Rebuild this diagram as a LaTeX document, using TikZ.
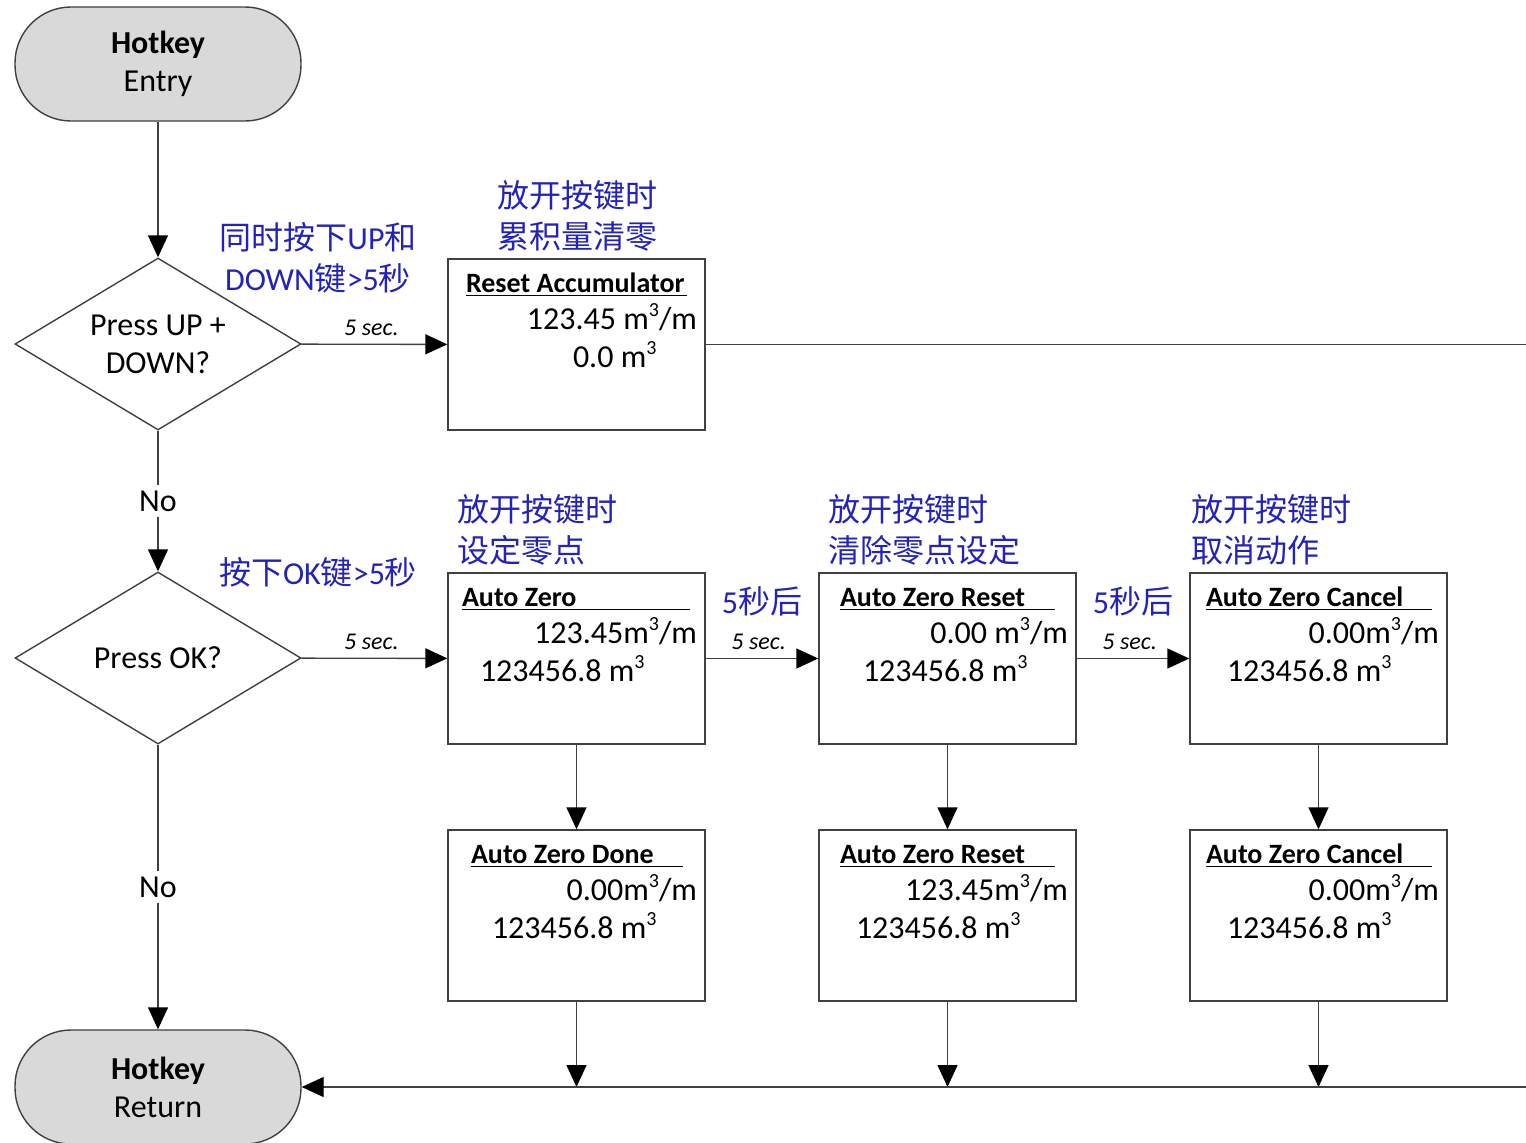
\documentclass[tikz,border=0pt]{standalone}
\usepackage{fontspec}
\setmainfont{Carlito}
\newfontfamily\cjk{Noto Sans CJK SC}
\usepackage{tikz}
\usetikzlibrary{arrows.meta,shapes.geometric,calc}
\definecolor{termgray}{RGB}{217,217,217}
\definecolor{hintblue}{RGB}{35,35,185}
\definecolor{linegray}{RGB}{64,64,64}
\newcommand{\zh}[1]{{\cjk #1}}
\newcommand{\cubx}{\raisebox{0.85ex}{\fontsize{10}{10}\selectfont 3}}
\newcommand{\cub}{m\cubx}
\newcommand{\cubm}{m\cubx/m}

\tikzset{
  term/.style={draw=linegray, fill=termgray, rectangle, rounded corners=28pt,
    minimum width=143pt, minimum height=57pt, align=center},
  ask/.style={draw=linegray, diamond, aspect=1.66, minimum width=143pt,
    minimum height=86pt, inner sep=0pt, align=center},
  statebox/.style={draw=linegray, minimum width=128.5pt, minimum height=85.5pt, inner sep=0pt},
  flow/.style={draw=linegray, -{Triangle[length=11pt,width=10pt,color=black]}},
  hint/.style={text=hintblue, font=\fontsize{16}{20.5}\selectfont, inner sep=0pt},
  secs/.style={font=\fontsize{12}{14}\selectfont\itshape, inner sep=0pt},
  ttl/.style={font=\fontsize{14}{17}\selectfont\bfseries, inner sep=0pt},
  val/.style={inner sep=0pt}
}

\begin{document}
\begin{tikzpicture}[x=0.5pt,y=-0.5pt,line width=0.7pt,font=\fontsize{16}{19}\selectfont]
    \useasboundingbox (0,0) rectangle (1526,1142);
    \coordinate (edgeR) at (1526,0);
    % left column
    \node[term] (entry) at (158,64) {\textbf{Hotkey}\\Entry};
    \node[ask] (askud) at (158,344) {Press UP +\\DOWN?};
    \node[ask] (askok) at (158,658) {Press OK?};
    \node[term] (ret) at (158,1087) {\textbf{Hotkey}\\Return};
    % state boxes
    \foreach \nm/\cx/\cy in {ra/576.5/344.5, az/576.5/658.5, azr/947.5/658.5, azc/1318.5/658.5,
        azd/576.5/915.5, azrd/947.5/915.5, azcd/1318.5/915.5}
        \node[statebox] (\nm) at (\cx,\cy) {};
    % box texts: name/title/underline/title offset/rate/total/total offset
    \foreach \nm/\tt/\ul/\ox/\rt/\tot/\oy in {
        ra/Reset Accumulator/110.5/18/{123.45 \cubm}/{0.0 \cub}/125,
        az/Auto Zero/114/14/{123.45\cubm}/{123456.8 \cub}/32,
        azr/Auto Zero Reset/107.5/21/{0.00 \cubm}/{123456.8 \cub}/44,
        azc/Auto Zero Cancel/113/16/{0.00\cubm}/{123456.8 \cub}/37,
        azd/Auto Zero Done/106/23/{0.00\cubm}/{123456.8 \cub}/44,
        azrd/Auto Zero Reset/107.5/21/{123.45\cubm}/{123456.8 \cub}/37,
        azcd/Auto Zero Cancel/113/16/{0.00\cubm}/{123456.8 \cub}/37}{
        \node[ttl,anchor=base west] (\nm-t) at ($(\nm.north west)+(\ox,34.5)$)
            {\underline{\makebox[\ul pt][l]{\tt}}};
        \node[val,anchor=base east] (\nm-r) at ($(\nm.north east)+(-8,71.5)$) {\rt};
        \node[val,anchor=base west] (\nm-v) at ($(\nm.north west)+(\oy,109.5)$) {\tot};
    }
    % blue hints
    \node[hint,align=center] (h1) at (318,258) {\zh{同时按下}UP\zh{和}\\DOWN\zh{键}>5\zh{秒}};
    \node[hint,align=center] (h2) at (577,216) {\zh{放开按键时}\\\zh{累积量清零}};
    \node[hint] (h3) at (318,572) {\zh{按下}OK\zh{键}>5\zh{秒}};
    \node[hint,align=left,anchor=west] (h4) at (457,530) {\zh{放开按键时}\\\zh{设定零点}};
    \node[hint,align=left,anchor=west] (h5) at (828,530) {\zh{放开按键时}\\\zh{清除零点设定}};
    \node[hint,align=left,anchor=west] (h6) at (1191,530) {\zh{放开按键时}\\\zh{取消动作}};
    \node[hint] (w1) at (762,601) {5\zh{秒后}};
    \node[hint] (w2) at (1133,601) {5\zh{秒后}};
    % connectors
    \draw[flow] (entry) -- (askud);
    \draw[flow] (askud) -- node[fill=white,inner sep=3pt] (no1) {No} (askok);
    \draw[flow] (askok) -- node[fill=white,inner sep=3pt] (no2) {No} (ret);
    \draw[flow] (askud) -- node[secs,above=4pt,pos=0.48] (s1) {5 sec.} (ra);
    \draw[flow] (askok) -- node[secs,above=4pt,pos=0.48] (s2) {5 sec.} (az);
    \draw[flow] (az) -- node[secs,above=4pt,pos=0.47] (s3) {5 sec.} (azr);
    \draw[flow] (azr) -- node[secs,above=4pt,pos=0.47] (s4) {5 sec.} (azc);
    \foreach \a/\b in {az/azd, azr/azrd, azc/azcd}{
        \draw[flow] (\a) -- (\b);
        \draw[flow] (\b) -- (\b.south |- ret.east);
    }
    \draw[linegray] (ra.east) -- (ra.east -| edgeR);
    \draw[flow] (ret.east -| edgeR) -- (ret.east);
\end{tikzpicture}
\end{document}
